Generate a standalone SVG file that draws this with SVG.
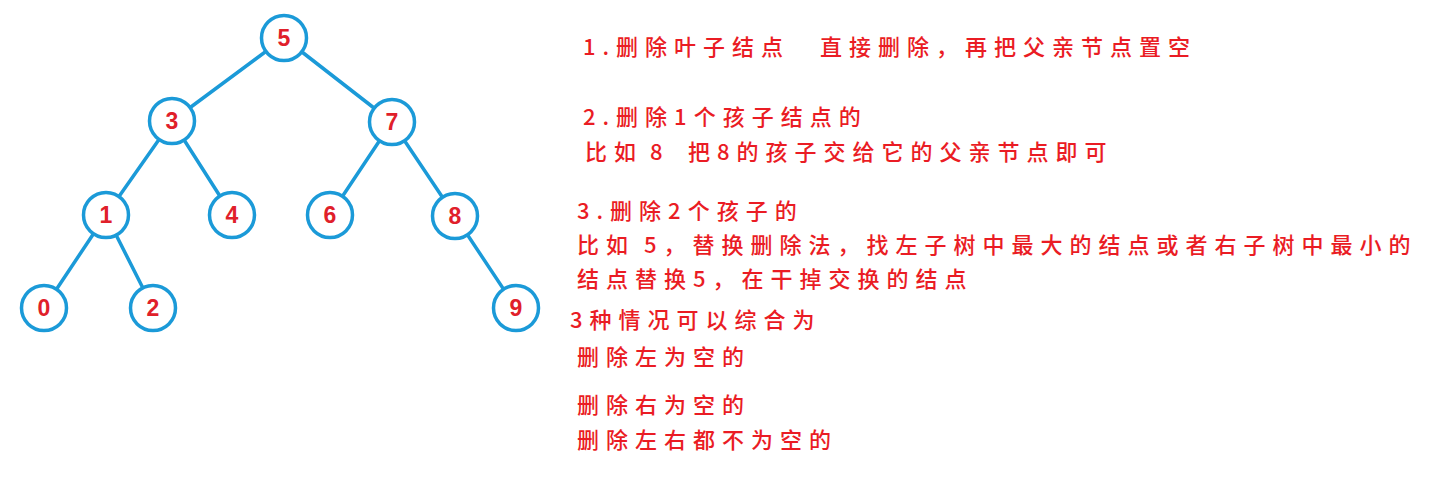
<svg xmlns="http://www.w3.org/2000/svg" width="1453" height="478" viewBox="0 0 1453 478">
<style>
.edge{stroke:#1b9ad8;stroke-width:3.5;stroke-linecap:round}
.node circle{fill:#ffffff;stroke:#1b9ad8;stroke-width:3.5}
.node text{font-family:"Liberation Sans",Arial,sans-serif;font-weight:bold;font-size:23px;fill:#e0202a;text-anchor:middle}
.note{font-family:"Noto Sans CJK SC","Noto Sans",sans-serif;font-size:22px;font-weight:500;fill:#ea1c24;letter-spacing:7px}
</style>
<rect width="1453" height="478" fill="#ffffff"/>
<g id="connectors">
<line class="edge" x1="284" y1="38" x2="172" y2="121"/>
<line class="edge" x1="284" y1="38" x2="392" y2="122"/>
<line class="edge" x1="172" y1="121" x2="106" y2="215"/>
<line class="edge" x1="172" y1="121" x2="232" y2="215"/>
<line class="edge" x1="392" y1="122" x2="330" y2="215"/>
<line class="edge" x1="392" y1="122" x2="455" y2="216"/>
<line class="edge" x1="106" y1="215" x2="44" y2="308"/>
<line class="edge" x1="106" y1="215" x2="153" y2="308"/>
<line class="edge" x1="455" y1="216" x2="516" y2="308"/>
</g>
<g id="n5" class="node"><circle cx="284" cy="38" r="22.5"/><text x="284" y="46">5</text></g>
<g id="n3" class="node"><circle cx="172" cy="121" r="22.5"/><text x="172" y="129">3</text></g>
<g id="n7" class="node"><circle cx="392" cy="122" r="22.5"/><text x="392" y="130">7</text></g>
<g id="n1" class="node"><circle cx="106" cy="215" r="22.5"/><text x="106" y="223">1</text></g>
<g id="n4" class="node"><circle cx="232" cy="215" r="22.5"/><text x="232" y="223">4</text></g>
<g id="n6" class="node"><circle cx="330" cy="215" r="22.5"/><text x="330" y="223">6</text></g>
<g id="n8" class="node"><circle cx="455" cy="216" r="22.5"/><text x="455" y="224">8</text></g>
<g id="n0" class="node"><circle cx="44" cy="308" r="22.5"/><text x="44" y="316">0</text></g>
<g id="n2" class="node"><circle cx="153" cy="308" r="22.5"/><text x="153" y="316">2</text></g>
<g id="n9" class="node"><circle cx="516" cy="308" r="22.5"/><text x="516" y="316">9</text></g>
<g id="notes">
<text class="note" x="583" y="55">1.删除叶子结点<tspan x="820">直接删除，再把父亲节点置空</tspan></text>
<text class="note" x="583" y="125">2.删除1个孩子结点的</text>
<text class="note" x="585" y="160">比如<tspan x="650">8</tspan><tspan x="688">把8的孩子交给它的父亲节点即可</tspan></text>
<text class="note" x="577" y="219">3.删除2个孩子的</text>
<text class="note" x="577" y="253">比如<tspan x="644">5，替换删除法，找左子树中最大的结点或者右子树中最小的</tspan></text>
<text class="note" x="577" y="287">结点替换5，在干掉交换的结点</text>
<text class="note" x="570" y="328">3种情况可以综合为</text>
<text class="note" x="577" y="365">删除左为空的</text>
<text class="note" x="577" y="413">删除右为空的</text>
<text class="note" x="577" y="448">删除左右都不为空的</text>
</g>
</svg>
